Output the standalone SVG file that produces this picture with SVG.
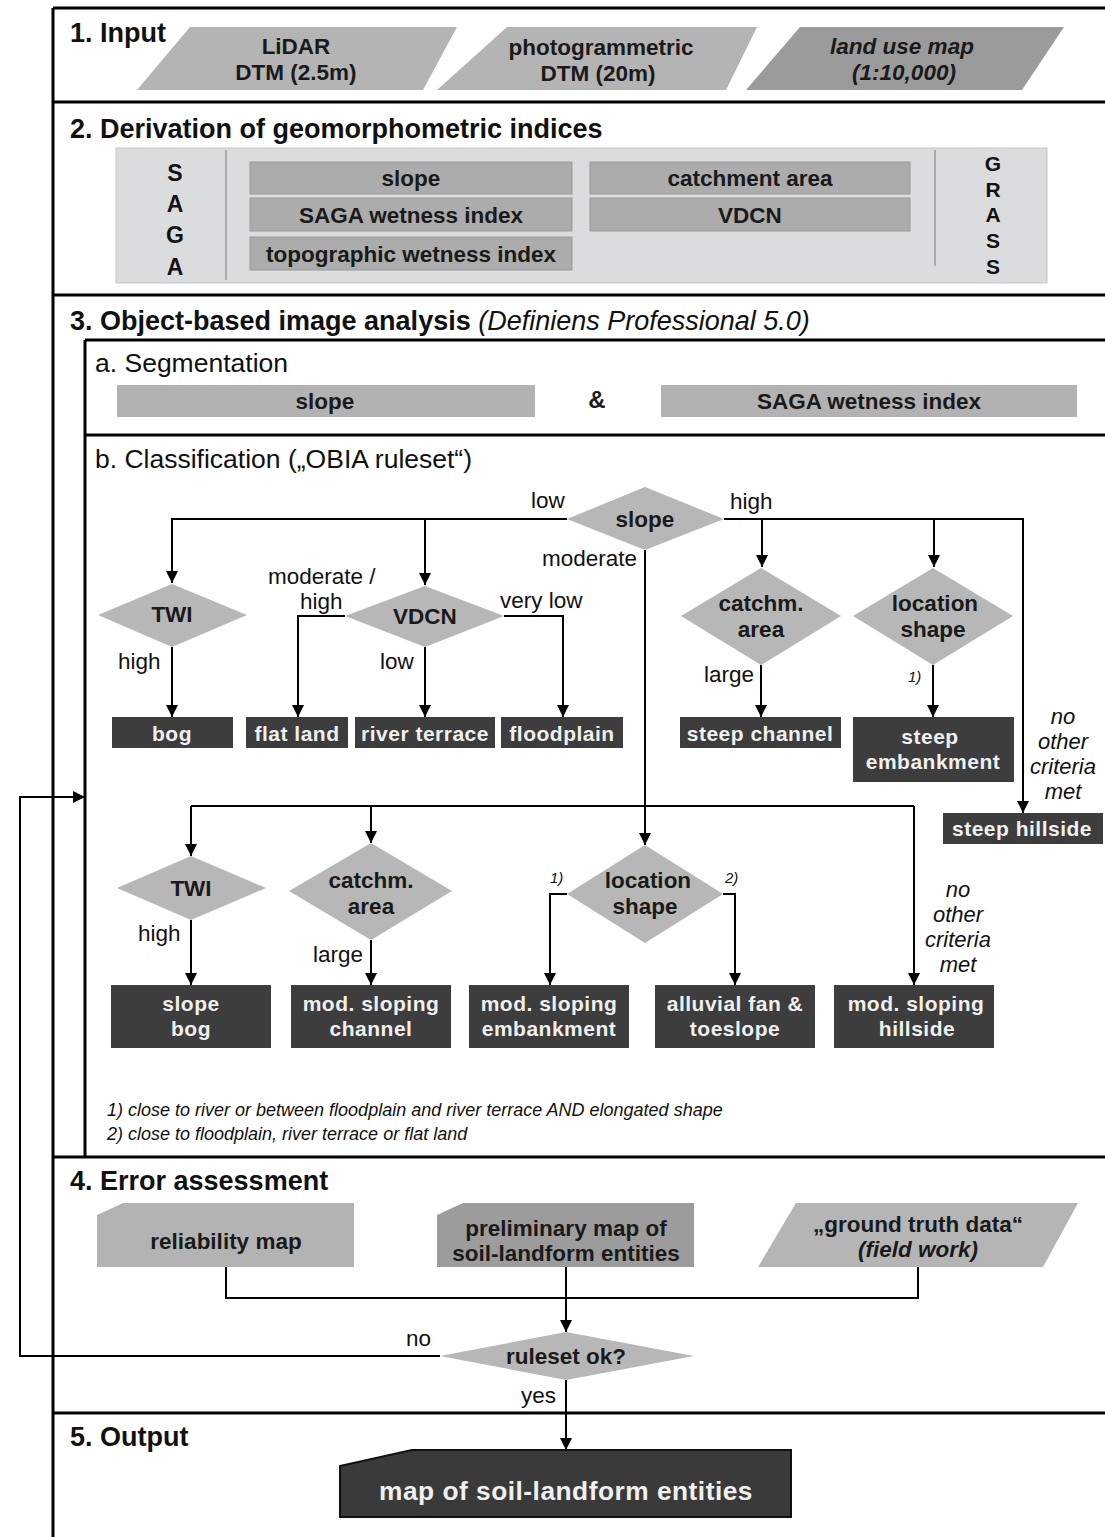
<svg xmlns="http://www.w3.org/2000/svg" width="1105" height="1537" viewBox="0 0 1105 1537">
<defs>
<marker id="arr" viewBox="0 0 10 10" refX="10" refY="5" markerWidth="12" markerHeight="12" markerUnits="userSpaceOnUse" orient="auto">
<path d="M0,0 L10,5 L0,10 z" fill="#000"/>
</marker>
<style>
text{font-family:"Liberation Sans",Arial,sans-serif;}
.hdr{font-size:27px;font-weight:bold;fill:#111;}
.sub{font-size:26.5px;fill:#111;}
.frame{stroke:#000;stroke-width:3;fill:none;}
.in{fill:#b4b4b4;}
.bt{font-size:22.5px;font-weight:bold;fill:#1a1a1a;text-anchor:middle;}
.bti{font-size:22.5px;font-style:italic;font-weight:bold;fill:#1a1a1a;text-anchor:middle;}
.gbox{fill:#acacac;stroke:#999;stroke-width:1;}
.dia{fill:#b7b7b7;}
.dark{fill:#3d3d3d;}
.wt{font-size:21px;font-weight:bold;fill:#f0f0f0;text-anchor:middle;letter-spacing:0.5px;}
.big{font-size:26.3px;}
.lbl{font-size:22.5px;fill:#111;}
.it{font-size:22px;font-style:italic;fill:#111;text-anchor:middle;}
.fn{font-size:18px;font-style:italic;fill:#111;}
.con{stroke:#000;stroke-width:2;fill:none;}
.ar{marker-end:url(#arr);}
.let{font-size:23px;font-weight:bold;fill:#111;text-anchor:middle;}
.let2{font-size:21px;}
.amp{font-size:24px;}
</style>
</defs>
<rect width="1105" height="1537" fill="#fff"/>

<g id="frame">
<path class="frame" d="M53,8 H1105 M53,8 V1537 M53,102 H1105 M53,295 H1105 M53,1157 H1105 M53,1413 H1105 M85,340 H1105 M85,340 V1157 M85,435 H1105"/>
</g>

<g id="section-headers">
<text class="hdr" x="70" y="42">1. Input</text>
<text class="hdr" x="70" y="138">2. Derivation of geomorphometric indices</text>
<text class="hdr" x="70" y="330">3. Object-based image analysis <tspan font-weight="normal" font-style="italic">(Definiens Professional 5.0)</tspan></text>
<text class="sub" x="95" y="372">a. Segmentation</text>
<text class="sub" x="95" y="468">b. Classification („OBIA ruleset“)</text>
<text class="hdr" x="70" y="1190">4. Error assessment</text>
<text class="hdr" x="70" y="1446">5. Output</text>
</g>

<g id="input-lidar">
<polygon class="in" points="190,27 457,27 423,90 137,90"/>
<text class="bt" x="296" y="54">LiDAR</text>
<text class="bt" x="296" y="80">DTM (2.5m)</text>
</g>
<g id="input-photogrammetric">
<polygon class="in" points="507,27 757,27 726,90 437,90"/>
<text class="bt" x="601" y="55">photogrammetric</text>
<text class="bt" x="598" y="81">DTM (20m)</text>
</g>
<g id="input-landuse">
<polygon fill="#9b9b9b" points="800,27 1064,27 1022,90 746,90"/>
<text class="bti" x="902" y="54">land use map</text>
<text class="bti" x="904" y="80">(1:10,000)</text>
</g>

<g id="indices-panel">
<rect x="116" y="148" width="931" height="135" fill="#dadcde" stroke="#c4c6c8" stroke-width="1"/>
<line x1="226" y1="150" x2="226" y2="280" stroke="#9a9a9a" stroke-width="1.5"/>
<line x1="935" y1="150" x2="935" y2="266" stroke="#9a9a9a" stroke-width="1.5"/>
<text class="let" x="175" y="181">S</text>
<text class="let" x="175" y="212">A</text>
<text class="let" x="175" y="243">G</text>
<text class="let" x="175" y="275">A</text>
<text class="let let2" x="993" y="171">G</text>
<text class="let let2" x="993" y="197">R</text>
<text class="let let2" x="993" y="222">A</text>
<text class="let let2" x="993" y="248">S</text>
<text class="let let2" x="993" y="274">S</text>
</g>
<g id="idx-slope"><rect class="gbox" x="250" y="162" width="322" height="32"/><text class="bt" x="411" y="186">slope</text></g>
<g id="idx-swi"><rect class="gbox" x="250" y="198" width="322" height="33"/><text class="bt" x="411" y="223">SAGA wetness index</text></g>
<g id="idx-twi"><rect class="gbox" x="250" y="237" width="322" height="33"/><text class="bt" x="411" y="262">topographic wetness index</text></g>
<g id="idx-catchment"><rect class="gbox" x="590" y="162" width="320" height="32"/><text class="bt" x="750" y="186">catchment area</text></g>
<g id="idx-vdcn"><rect class="gbox" x="590" y="198" width="320" height="33"/><text class="bt" x="750" y="223">VDCN</text></g>

<g id="seg-slope"><rect x="117" y="385" width="418" height="32" fill="#b2b2b2"/><text class="bt" x="325" y="409">slope</text></g>
<text class="bt amp" x="597" y="408">&amp;</text>
<g id="seg-swi"><rect x="661" y="385" width="416" height="32" fill="#b2b2b2"/><text class="bt" x="869" y="409">SAGA wetness index</text></g>

<g id="connectors">
<path class="con ar" d="M567,519 H172 V583"/>
<path class="con ar" d="M425,519 V585"/>
<path class="con ar" d="M724,519 H1023 V813"/>
<path class="con ar" d="M762,519 V567"/>
<path class="con ar" d="M934,519 V567"/>
<path class="con ar" d="M172,647 V717"/>
<path class="con ar" d="M345,616 H298 V717"/>
<path class="con ar" d="M425,647 V717"/>
<path class="con ar" d="M504,616 H563 V717"/>
<path class="con ar" d="M761,665 V717"/>
<path class="con ar" d="M933,665 V717"/>
<path class="con ar" d="M645,550 V845"/>
<path class="con" d="M191,806 H914"/>
<path class="con ar" d="M191,806 V856"/>
<path class="con ar" d="M371,806 V843"/>
<path class="con ar" d="M914,806 V985"/>
<path class="con ar" d="M191,920 V985"/>
<path class="con ar" d="M371,940 V985"/>
<path class="con ar" d="M567,894 H550 V985"/>
<path class="con ar" d="M723,894 H735 V985"/>
<path class="con" d="M226,1267 V1298 H918 V1267"/>
<path class="con ar" d="M566,1267 V1332"/>
<path class="con ar" d="M566,1380 V1450"/>
<path class="con ar" d="M440,1356 H20 V797 H85"/>
</g>

<g id="edge-labels">
<text class="lbl" x="531" y="508">low</text>
<text class="lbl" x="730" y="509">high</text>
<text class="lbl" x="542" y="566">moderate</text>
<text class="lbl" x="268" y="584">moderate /</text>
<text class="lbl" x="300" y="609">high</text>
<text class="lbl" x="500" y="608">very low</text>
<text class="lbl" x="118" y="669">high</text>
<text class="lbl" x="380" y="669">low</text>
<text class="lbl" x="704" y="682">large</text>
<text x="908" y="682" font-size="15" font-style="italic" fill="#111">1)</text>
<text class="it" x="1063" y="724">no</text>
<text class="it" x="1063" y="749">other</text>
<text class="it" x="1063" y="774">criteria</text>
<text class="it" x="1063" y="799">met</text>
<text class="lbl" x="138" y="941">high</text>
<text class="lbl" x="313" y="962">large</text>
<text x="550" y="883" font-size="15" font-style="italic" fill="#111">1)</text>
<text x="725" y="883" font-size="15" font-style="italic" fill="#111">2)</text>
<text class="it" x="958" y="897">no</text>
<text class="it" x="958" y="922">other</text>
<text class="it" x="958" y="947">criteria</text>
<text class="it" x="958" y="972">met</text>
<text class="lbl" x="406" y="1346">no</text>
<text class="lbl" x="521" y="1403">yes</text>
</g>

<g id="d-slope"><polygon class="dia" points="567,519 645,487 724,519 645,550"/><text class="bt" x="645" y="527">slope</text></g>
<g id="d-twi"><polygon class="dia" points="98,615 172,584 247,615 172,647"/><text class="bt" x="172" y="622">TWI</text></g>
<g id="d-vdcn"><polygon class="dia" points="345,616 425,586 504,616 425,647"/><text class="bt" x="425" y="624">VDCN</text></g>
<g id="d-catchm"><polygon class="dia" points="681,616 761,568 841,616 761,665"/><text class="bt" x="761" y="611">catchm.</text><text class="bt" x="761" y="637">area</text></g>
<g id="d-location"><polygon class="dia" points="853,616 933,568 1013,616 933,665"/><text class="bt" x="935" y="611">location</text><text class="bt" x="933" y="637">shape</text></g>

<g id="c-bog"><rect class="dark" x="112" y="717" width="121" height="31"/><text class="wt" x="172" y="741">bog</text></g>
<g id="c-flat"><rect class="dark" x="246" y="717" width="102" height="31"/><text class="wt" x="297" y="741">flat land</text></g>
<g id="c-terrace"><rect class="dark" x="355" y="717" width="140" height="31"/><text class="wt" x="425" y="741">river terrace</text></g>
<g id="c-floodplain"><rect class="dark" x="501" y="717" width="122" height="31"/><text class="wt" x="562" y="741">floodplain</text></g>
<g id="c-steepchannel"><rect class="dark" x="680" y="717" width="161" height="31"/><text class="wt" x="760" y="741">steep channel</text></g>
<g id="c-steepemb"><rect class="dark" x="853" y="717" width="161" height="65"/><text class="wt" x="930" y="744">steep</text><text class="wt" x="933" y="769">embankment</text></g>
<g id="c-steephill"><rect class="dark" x="943" y="813" width="160" height="31"/><text class="wt" x="1022" y="836">steep hillside</text></g>

<g id="d-twi2"><polygon class="dia" points="117,888 191,856 266,888 191,920"/><text class="bt" x="191" y="896">TWI</text></g>
<g id="d-catchm2"><polygon class="dia" points="289,891 371,843 452,891 371,940"/><text class="bt" x="371" y="888">catchm.</text><text class="bt" x="371" y="914">area</text></g>
<g id="d-location2"><polygon class="dia" points="567,894 645,845 723,894 645,943"/><text class="bt" x="648" y="888">location</text><text class="bt" x="645" y="914">shape</text></g>

<g id="c-slopebog"><rect class="dark" x="111" y="985" width="160" height="63"/><text class="wt" x="191" y="1011">slope</text><text class="wt" x="191" y="1036">bog</text></g>
<g id="c-modchannel"><rect class="dark" x="291" y="985" width="160" height="63"/><text class="wt" x="371" y="1011">mod. sloping</text><text class="wt" x="371" y="1036">channel</text></g>
<g id="c-modemb"><rect class="dark" x="469" y="985" width="160" height="63"/><text class="wt" x="549" y="1011">mod. sloping</text><text class="wt" x="549" y="1036">embankment</text></g>
<g id="c-alluvial"><rect class="dark" x="655" y="985" width="160" height="63"/><text class="wt" x="735" y="1011">alluvial fan &amp;</text><text class="wt" x="735" y="1036">toeslope</text></g>
<g id="c-modhill"><rect class="dark" x="834" y="985" width="160" height="63"/><text class="wt" x="916" y="1011">mod. sloping</text><text class="wt" x="917" y="1036">hillside</text></g>

<g id="footnotes">
<text class="fn" x="107" y="1116">1) close to river or between floodplain and river terrace AND elongated shape</text>
<text class="fn" x="107" y="1140">2) close to floodplain, river terrace or flat land</text>
</g>

<g id="e-reliability"><polygon fill="#b3b3b3" points="97,1215 123,1203 354,1203 354,1267 97,1267"/><text class="bt" x="226" y="1249">reliability map</text></g>
<g id="e-preliminary"><polygon fill="#9c9c9c" points="437,1215 463,1203 694,1203 694,1267 437,1267"/><text class="bt" x="566" y="1236">preliminary map of</text><text class="bt" x="566" y="1261">soil-landform entities</text></g>
<g id="e-groundtruth"><polygon fill="#b5b5b5" points="796,1203 1078,1203 1043,1267 758,1267"/><text class="bt" x="918" y="1232">„ground truth data“</text><text class="bti" x="918" y="1257">(field work)</text></g>
<g id="d-ruleset"><polygon class="dia" points="440,1356 566,1332 694,1356 566,1380"/><text class="bt" x="566" y="1364">ruleset ok?</text></g>

<g id="o-map"><polygon fill="#3a3a3a" stroke="#111" stroke-width="2" points="340,1466 412,1450 791,1450 791,1517 340,1517"/><text class="wt big" x="566" y="1500">map of soil-landform entities</text></g>
</svg>
